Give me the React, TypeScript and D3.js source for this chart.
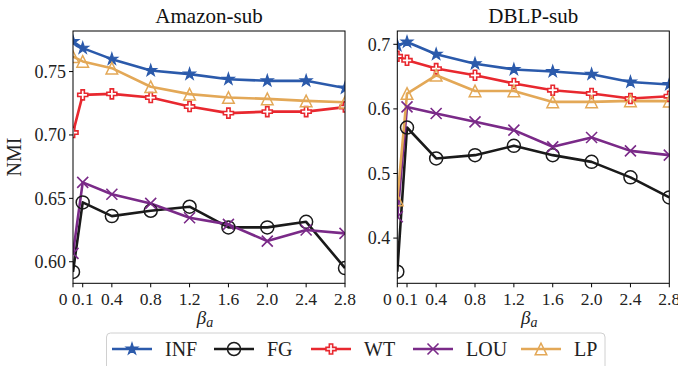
import React from 'react';
import * as d3 from 'd3';

const betas = [0, 0.1, 0.4, 0.8, 1.2, 1.6, 2.0, 2.4, 2.8];
const xTickLabels = ['0', '0.1', '0.4', '0.8', '1.2', '1.6', '2.0', '2.4', '2.8'];
const seriesNames = ['INF', 'FG', 'WT', 'LOU', 'LP'];

// Amazon-sub
const amazonINF = [0.7737, 0.7685, 0.7598, 0.7508, 0.748, 0.744, 0.7427, 0.7427, 0.737];
const amazonFG = [0.592, 0.6468, 0.636, 0.6402, 0.6434, 0.6271, 0.6271, 0.6315, 0.595];
const amazonWT = [0.7019, 0.7316, 0.7324, 0.7295, 0.7224, 0.7172, 0.7184, 0.7184, 0.722];
const amazonLOU = [0.6066, 0.6626, 0.6532, 0.646, 0.6347, 0.6295, 0.6163, 0.625, 0.6224];
const amazonLP = [0.7618, 0.758, 0.7527, 0.738, 0.7322, 0.7295, 0.7285, 0.7269, 0.7258];
const amazonYTicks = [0.6, 0.65, 0.7, 0.75];

// DBLP-sub
const dblpINF = [0.698, 0.7036, 0.6845, 0.67, 0.661, 0.658, 0.6536, 0.6417, 0.6377];
const dblpFG = [0.348, 0.5712, 0.5233, 0.5284, 0.5428, 0.5284, 0.518, 0.494, 0.463];
const dblpWT = [0.6815, 0.6753, 0.6624, 0.652, 0.6393, 0.6289, 0.6238, 0.616, 0.6196];
const dblpLOU = [0.433, 0.6031, 0.5929, 0.58, 0.5671, 0.5413, 0.5558, 0.535, 0.5284];
const dblpLP = [0.459, 0.6238, 0.652, 0.6278, 0.6278, 0.6108, 0.6108, 0.6124, 0.612];
const dblpYTicks = [0.4, 0.5, 0.6, 0.7];

const colors = ['#2b5aab', '#1a1a1a', '#e8282f', '#7a2a88', '#e3a857'];
const font = '"Liberation Serif", "DejaVu Serif", serif';

const starPath = d3.symbol(d3.symbolStar, 42)() as string;
const plusPath = (() => {
  const pts = [[-1, -3], [1, -3], [1, -1], [3, -1], [3, 1], [1, 1], [1, 3], [-1, 3], [-1, 1], [-3, 1], [-3, -1], [-1, -1]];
  const s = 10 / 6;
  return 'M' + pts.map(p => `${p[0] * s},${p[1] * s}`).join('L') + 'Z';
})();
const triPath = (() => {
  const h = 5.8;
  return `M0,${-h}L${-h},${h}L${h},${h}Z`;
})();

const Marker = ({ kind, color }: { kind: number; color: string }) => {
  if (kind === 0) return <path d={starPath} fill={color} stroke={color} strokeWidth={1.2} />;
  if (kind === 1) return <circle r={6.5} fill="none" stroke={color} strokeWidth={1.5} />;
  if (kind === 2) return <path d={plusPath} fill="white" stroke={color} strokeWidth={1.6} />;
  if (kind === 3) return <path d="M-5.5,-5.5L5.5,5.5M-5.5,5.5L5.5,-5.5" stroke={color} strokeWidth={1.6} fill="none" />;
  return <path d={triPath} fill="none" stroke={color} strokeWidth={1.5} />;
};

type PanelProps = {
  id: string;
  title: string;
  left: number;
  right: number;
  yDomain: [number, number];
  yTicks: number[];
  fmt: string;
  data: number[][];
};

const top = 31;
const bottom = 283.3;

const Panel = ({ id, title, left, right, yDomain, yTicks, fmt, data }: PanelProps) => {
  const x = d3.scaleLinear().domain([0, 2.8]).range([left, right]);
  const y = d3.scaleLinear().domain(yDomain).range([bottom, top]);
  const line = d3.line<number>().x((d, i) => x(betas[i])).y(d => y(d));
  const f = d3.format(fmt);
  const cx = (left + right) / 2;
  return (
    <g>
      <defs>
        <clipPath id={id}>
          <rect x={left} y={top} width={right - left} height={bottom - top} />
        </clipPath>
      </defs>
      <g clipPath={`url(#${id})`}>
        {data.map((vals, si) => (
          <path key={si} d={line(vals) as string} fill="none" stroke={colors[si]} strokeWidth={2.6} strokeLinejoin="round" />
        ))}
        {data.map((vals, si) => (
          <g key={'m' + si}>
            {vals.map((v, i) => (
              <g key={i} transform={`translate(${x(betas[i])},${y(v)})`}>
                <Marker kind={si} color={colors[si]} />
              </g>
            ))}
          </g>
        ))}
      </g>
      <rect x={left} y={top} width={right - left} height={bottom - top} fill="none" stroke="#000" strokeWidth={1} />
      {yTicks.map(t => (
        <g key={t} transform={`translate(${left},${y(t)})`}>
          <line x1={-4} x2={0} stroke="#000" strokeWidth={1} />
          <text x={-7} dy="0.35em" textAnchor="end" fontSize={18} fontFamily={font} fill="#222">{f(t)}</text>
        </g>
      ))}
      {betas.map((b, i) => (
        <g key={b} transform={`translate(${x(b)},${bottom})`}>
          <line y1={0} y2={4} stroke="#000" strokeWidth={1} />
          <text x={i === 0 ? -10 : 0} y={22} textAnchor="middle" fontSize={17.5} fontFamily={font} fill="#222">{xTickLabels[i]}</text>
        </g>
      ))}
      <text x={cx} y={23} textAnchor="middle" fontSize={21} fontFamily={font} fill="#111">{title}</text>
      <text x={cx - 4} y={324} textAnchor="middle" fontSize={19} fontFamily={font} fontStyle="italic" fill="#222">
        β<tspan fontSize={14} dy={3}>a</tspan>
      </text>
    </g>
  );
};

const legendX = [112, 214, 311, 413, 521];

const App = () => {
  return (
    <svg width={678} height={366} style={{ position: 'absolute', left: 0, top: 0, background: '#fff' }}>
      <Panel
        id="clipA"
        title="Amazon-sub"
        left={73}
        right={345}
        yDomain={[0.583, 0.782]}
        yTicks={amazonYTicks}
        fmt=".2f"
        data={[amazonINF, amazonFG, amazonWT, amazonLOU, amazonLP]}
      />
      <Panel
        id="clipD"
        title="DBLP-sub"
        left={397.3}
        right={669.3}
        yDomain={[0.33, 0.7206]}
        yTicks={dblpYTicks}
        fmt=".1f"
        data={[dblpINF, dblpFG, dblpWT, dblpLOU, dblpLP]}
      />
      <text transform="translate(21,157) rotate(-90)" textAnchor="middle" fontSize={20} fontFamily={font} fill="#222">NMI</text>
      <rect x={106.5} y={333} width={498.5} height={40} rx={4} fill="#fff" stroke="#d0d0d0" strokeWidth={1} />
      {seriesNames.map((name, i) => (
        <g key={name} transform={`translate(${legendX[i]},349)`}>
          <line x1={0} x2={40} stroke={colors[i]} strokeWidth={2.6} />
          <g transform="translate(20,0)">
            <Marker kind={i} color={colors[i]} />
          </g>
          <text x={53} dy="0.35em" fontSize={20} fontFamily={font} fill="#222">{name}</text>
        </g>
      ))}
    </svg>
  );
};

export default App;
